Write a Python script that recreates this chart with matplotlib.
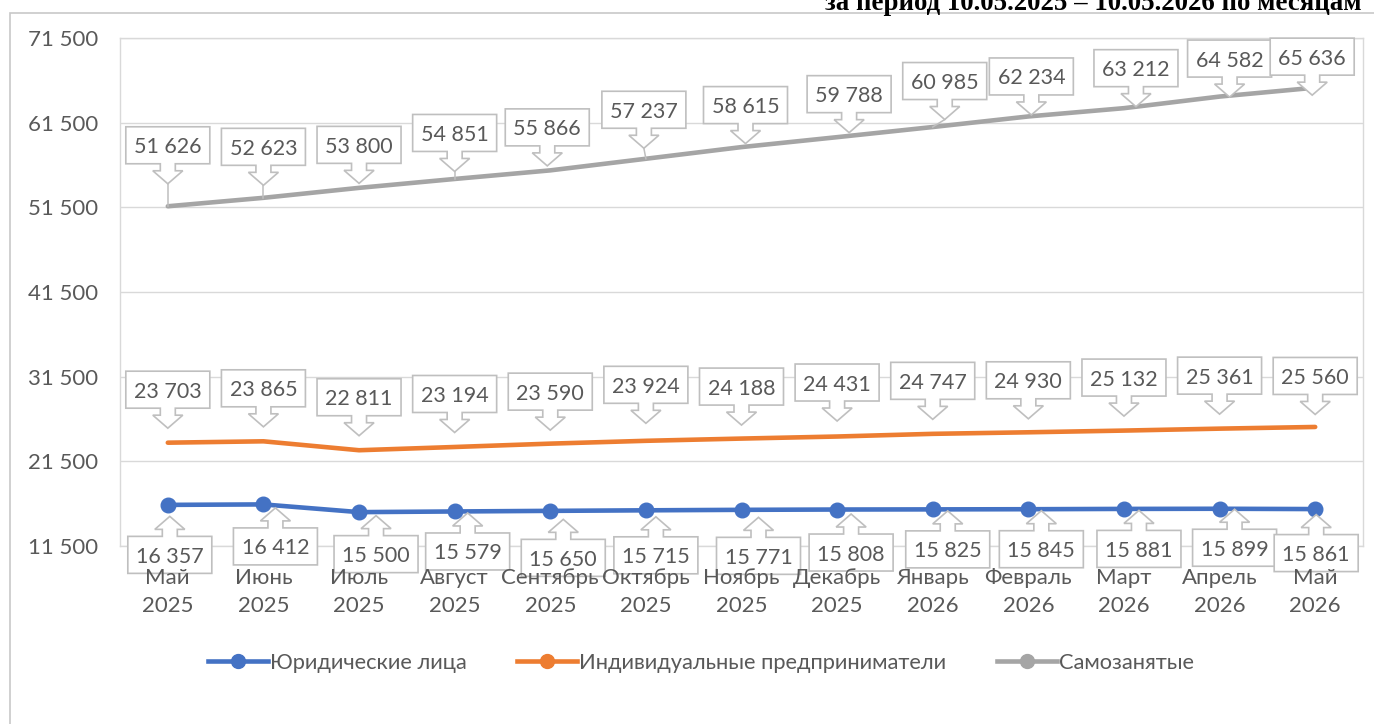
import matplotlib
matplotlib.use('Agg')
import matplotlib.pyplot as plt
from matplotlib.patches import Polygon, Rectangle
from matplotlib.transforms import IdentityTransform
from matplotlib.lines import Line2D

# ---------------- data ----------------
months = ['Май\n2025', 'Июнь\n2025', 'Июль\n2025', 'Август\n2025', 'Сентябрь\n2025',
          'Октябрь\n2025', 'Ноябрь\n2025', 'Декабрь\n2025', 'Январь\n2026',
          'Февраль\n2026', 'Март\n2026', 'Апрель\n2026', 'Май\n2026']
legal = [16357, 16412, 15500, 15579, 15650, 15715, 15771, 15808, 15825, 15845, 15881, 15899, 15861]
ip = [23703, 23865, 22811, 23194, 23590, 23924, 24188, 24431, 24747, 24930, 25132, 25361, 25560]
self_emp = [51626, 52623, 53800, 54851, 55866, 57237, 58615, 59788, 60985, 62234, 63212, 64582, 65636]
series_names = ['Юридические лица', 'Индивидуальные предприниматели', 'Самозанятые']
yticks = [11500, 21500, 31500, 41500, 51500, 61500, 71500]
title = 'за период 10.05.2025 – 10.05.2026 по месяцам'

# ---------------- label placement (pixels, style only) ----------------
gray_dy = [61, 51, 43, 46, 43, 49, 42, 43, 46, 40, 40, 38, 31]
gray_dx = [0, 0, 0, 0, -3, -2, 4, 12, 12, 3, 12, 10, -3]
orange_dy = [53, 53, 53, 53, 52, 56, 52, 54, 53, 52, 53, 53, 51]
orange_dx = [0] * 13
blue_dy = [-50, -42, -42, -40, -47, -45, -46, -43, -40, -40, -40, -39, -44]
blue_dx = [2, 12, 17, 13, 13, 10, 17, 14, 15, 13, 15, 15, 1]

W, H = 1374, 724
FONT = 'Lato'
TXT = '#595959'
EDGE = '#BFBFBF'
C_BLUE, C_ORANGE, C_GRAY = '#4472C4', '#ED7D31', '#A5A5A5'

plt.rcParams['font.family'] = [FONT, 'DejaVu Sans']

fig = plt.figure(figsize=(W / 100, H / 100), dpi=100)
fig.patch.set_facecolor('white')

# outer chart border
fig.add_artist(Rectangle((10 / W, -0.2), 1.2, 1 - 13 / H + 0.2, transform=fig.transFigure,
                         fill=False, edgecolor='#C8C8C8', lw=1.2))
fig.text(1362 / W, 1 - 10 / H, title, ha='right', va='baseline',
         family='Liberation Serif', weight='bold', fontsize=19.4, color='black')

ax = fig.add_axes([120 / W, 1 - 546 / H, (1363 - 120) / W, (546 - 38) / H])
x = list(range(len(months)))
ax.set_xlim(-0.5, len(months) - 0.5)
ax.set_ylim(yticks[0], yticks[-1])
ax.set_yticks(yticks)
ax.set_yticklabels([f'{v:,}'.replace(',', ' ') for v in yticks])
ax.set_xticks(x)
ax.set_xticklabels(months, linespacing=1.5)
ax.tick_params(axis='both', length=0, labelsize=16, labelcolor=TXT)
ax.tick_params(axis='y', pad=16)
ax.tick_params(axis='x', pad=16)
ax.grid(axis='y', color='#D9D9D9', lw=1.0)
ax.set_axisbelow(True)
ax.xaxis.set_zorder(10)
for s in ax.spines.values():
    s.set_color('#D9D9D9')
    s.set_linewidth(1.0)

lw = 3.3
ax.plot(x, legal, color=C_BLUE, lw=lw, marker='o', ms=10.5, solid_capstyle='round', zorder=3)
ax.plot(x, ip, color=C_ORANGE, lw=lw, solid_capstyle='round', zorder=3)
ax.plot(x, self_emp, color=C_GRAY, lw=lw, solid_capstyle='round', zorder=3)

fig.canvas.draw()

BW, BH = 84, 37
SH, SL, HH, HL = 7.5, 7, 15, 13


def callout(xi, yi, dx, dy, text, leader=False):
    px, py = ax.transData.transform((xi, yi))
    cx, cy = px + dx, py + dy
    hw, hh = BW / 2, BH / 2
    if dy > 0:  # box above, arrow pointing down
        b = cy - hh
        pts = [(cx - hw, cy + hh), (cx + hw, cy + hh), (cx + hw, b), (cx + SH, b),
               (cx + SH, b - SL), (cx + HH, b - SL), (cx, b - SL - HL), (cx - HH, b - SL),
               (cx - SH, b - SL), (cx - SH, b), (cx - hw, b)]
        tip = b - SL - HL
        if leader and tip - py > 6:
            ax.add_line(Line2D([cx, px], [tip, py], transform=IdentityTransform(),
                               color=EDGE, lw=1.1, zorder=4, clip_on=False))
    else:  # box below, arrow pointing up
        t = cy + hh
        pts = [(cx - hw, cy - hh), (cx + hw, cy - hh), (cx + hw, t), (cx + SH, t),
               (cx + SH, t + SL), (cx + HH, t + SL), (cx, t + SL + HL), (cx - HH, t + SL),
               (cx - SH, t + SL), (cx - SH, t), (cx - hw, t)]
    ax.add_patch(Polygon(pts, closed=True, transform=IdentityTransform(), facecolor='white',
                         edgecolor=EDGE, lw=1.2, zorder=5, clip_on=False))
    ax.text(cx, cy, text, transform=IdentityTransform(), ha='center', va='center_baseline',
            fontsize=15.5, color=TXT, zorder=6, clip_on=False)


def fmt(v):
    return f'{v:,}'.replace(',', ' ')


for i in x:
    callout(i, self_emp[i], gray_dx[i], gray_dy[i], fmt(self_emp[i]), leader=True)
    callout(i, ip[i], orange_dx[i], orange_dy[i], fmt(ip[i]))
    callout(i, legal[i], blue_dx[i], blue_dy[i], fmt(legal[i]))

handles = [Line2D([], [], color=c, lw=lw, marker='o', ms=10) for c in (C_BLUE, C_ORANGE, C_GRAY)]
fig.legend(handles, series_names, loc='center', bbox_to_anchor=(701 / W, 1 - 663 / H),
           ncol=3, frameon=False, fontsize=15.75, labelcolor=TXT, handlelength=2.75,
           handletextpad=0.1, columnspacing=2.3)

fig.savefig('out.png', dpi=100, facecolor='white')
